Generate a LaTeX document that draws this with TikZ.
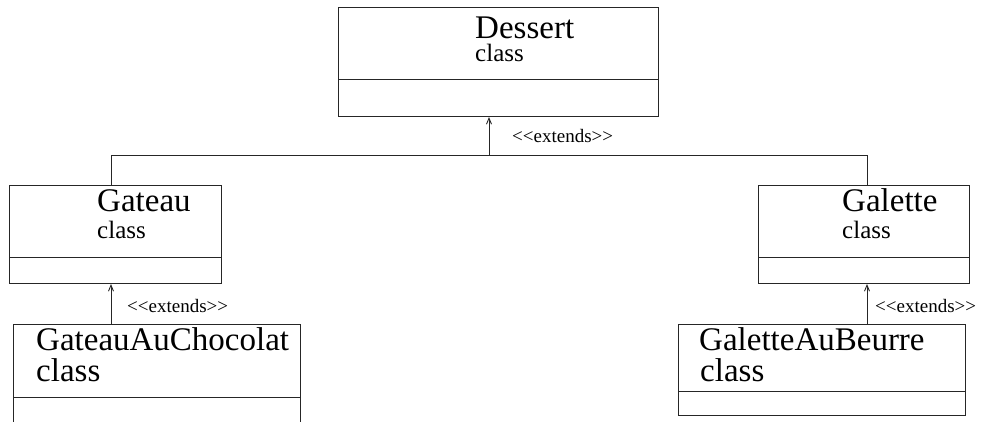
\documentclass[tikz,border=0pt]{standalone}
\usepackage{fontspec}
\setmainfont{Liberation Serif}
\usetikzlibrary{arrows.meta,calc}
\newcommand{\stereotype}[1]{{<}{<}#1{>}{>}}
\begin{document}
\begin{tikzpicture}[x=1pt,y=-1pt,
  umlbox/.style={draw=black!85,line width=1pt,rectangle,inner sep=0pt,anchor=north west},
  wire/.style={draw=black!85,line width=1pt},
  ext/.style={wire,-{Straight Barb[length=6pt,width=5pt,line width=0.9pt]}},
  title/.style={anchor=base west,inner sep=0pt,font=\fontsize{33}{33}\selectfont},
  small/.style={anchor=base west,inner sep=0pt,font=\fontsize{25}{25}\selectfont},
  stereo/.style={anchor=base west,inner sep=0pt,font=\fontsize{19}{19}\selectfont}]
\clip (0,0) rectangle (984,421);
\fill[white] (0,0) rectangle (984,421);

% class boxes
\node[umlbox,minimum width=320pt,minimum height=109pt] (d) at (338,7) {};
\node[umlbox,minimum width=212pt,minimum height=98pt] (ga) at (9,185) {};
\node[umlbox,minimum width=211pt,minimum height=98pt] (gl) at (758,185) {};
\node[umlbox,minimum width=287pt,minimum height=120pt] (gac) at (13,324) {};
\node[umlbox,minimum width=287pt,minimum height=91pt] (gab) at (678,324) {};

% compartment dividers
\draw[wire] ($(d.north west)+(0,72)$) -- ($(d.north east)+(0,72)$);
\draw[wire] ($(ga.north west)+(0,72)$) -- ($(ga.north east)+(0,72)$);
\draw[wire] ($(gl.north west)+(0,72)$) -- ($(gl.north east)+(0,72)$);
\draw[wire] ($(gac.north west)+(0,73)$) -- ($(gac.north east)+(0,73)$);
\draw[wire] ($(gab.north west)+(0,67)$) -- ($(gab.north east)+(0,67)$);

% names
\node[title] (dn) at (475,38) {Dessert};
\node[small] (dc) at (475,61) {class};
\node[title] (gan) at (97,211) {Gateau};
\node[small] (gac1) at (97,238) {class};
\node[title] (gln) at (842,211) {Galette};
\node[small] (glc) at (842,238) {class};
\node[title] (gacn) at (36,350) {GateauAuChocolat};
\node[title] (gacc) at (36,381) {class};
\node[title] (gabn) at (699,350) {GaletteAuBeurre};
\node[title] (gabc) at (700,381) {class};

% inheritance connectors
\coordinate (j) at (489,155);
\coordinate (jl) at (111,155);
\coordinate (jr) at (867,155);
\draw[wire] (jl) -- (jr);
\draw[ext] (j) -- (j |- d.south);
\draw[wire] (jl) -- (jl |- ga.north);
\draw[wire] (jr) -- (jr |- gl.north);
\draw[ext] (jl |- gac.north) -- (jl |- ga.south);
\draw[ext] (jr |- gab.north) -- (jr |- gl.south);

% stereotypes
\node[stereo] (s1) at (512,142) {\stereotype{extends}};
\node[stereo] (s2) at (127,312) {\stereotype{extends}};
\node[stereo] (s3) at (875,312) {\stereotype{extends}};
\end{tikzpicture}
\end{document}
